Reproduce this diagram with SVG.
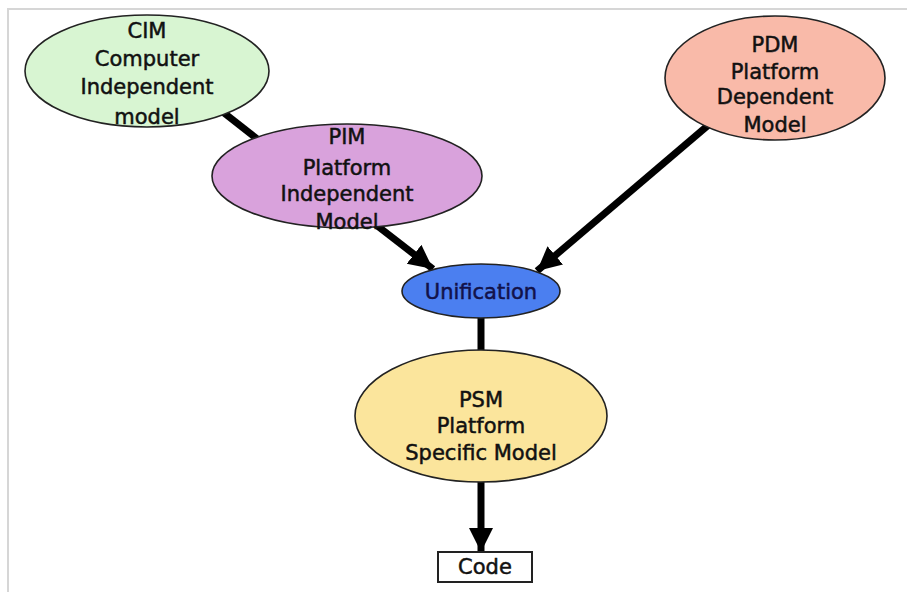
<svg xmlns="http://www.w3.org/2000/svg" width="907" height="592" viewBox="0 0 907 592">
<defs>
<marker id="ah" markerUnits="userSpaceOnUse" markerWidth="26" markerHeight="26" viewBox="0 0 26 26" refX="24" refY="13" orient="auto">
<path d="M0,1 L24,13 L0,25 Z" fill="#000"/>
</marker>
<style>
.n{stroke:#222;stroke-width:1.6}
.t{font-family:"DejaVu Sans",sans-serif;font-size:21px;fill:#111;stroke:#111;stroke-width:0.5;text-anchor:middle}
.c{stroke:#000;stroke-width:7;fill:none}
</style>
</defs>
<rect width="907" height="592" fill="#fff"/>
<path d="M8,592 V9 H907" fill="none" stroke="#d6d6d6" stroke-width="2"/>
<g id="connectors">
<line class="c" x1="205" y1="98" x2="275" y2="153"/>
<line class="c" x1="362" y1="214" x2="433" y2="269" marker-end="url(#ah)"/>
<line class="c" x1="712" y1="122" x2="537" y2="271" marker-end="url(#ah)"/>
<line class="c" x1="481" y1="314" x2="481" y2="352"/>
<line class="c" x1="481" y1="480" x2="481" y2="552" marker-end="url(#ah)"/>
</g>
<g id="cim">
<ellipse class="n" cx="147" cy="71" rx="122" ry="56" fill="#d8f5d2"/>
<text class="t" x="147" y="38">CIM</text>
<text class="t" x="147" y="66">Computer</text>
<text class="t" x="147" y="94">Independent</text>
<text class="t" x="147" y="124">model</text>
</g>
<g id="pim">
<ellipse class="n" cx="347" cy="176" rx="135" ry="52" fill="#d9a2dc"/>
<text class="t" x="347" y="144">PIM</text>
<text class="t" x="347" y="175">Platform</text>
<text class="t" x="347" y="201">Independent</text>
<text class="t" x="347" y="229">Model</text>
</g>
<g id="pdm">
<ellipse class="n" cx="775" cy="78" rx="110" ry="62" fill="#f9baa9"/>
<text class="t" x="775" y="52">PDM</text>
<text class="t" x="775" y="79">Platform</text>
<text class="t" x="775" y="104">Dependent</text>
<text class="t" x="775" y="132">Model</text>
</g>
<g id="unification">
<ellipse class="n" cx="481" cy="291" rx="79" ry="27" fill="#4b7ff0"/>
<text class="t" x="481" y="299" style="fill:#12124a;stroke:#12124a">Unification</text>
</g>
<g id="psm">
<ellipse class="n" cx="481" cy="416" rx="126" ry="66" fill="#fbe59c"/>
<text class="t" x="481" y="407">PSM</text>
<text class="t" x="481" y="433">Platform</text>
<text class="t" x="481" y="460">Specific Model</text>
</g>
<g id="code">
<rect x="438" y="552" width="94" height="30" fill="#fff" stroke="#222" stroke-width="2"/>
<text class="t" x="485" y="574">Code</text>
</g>
</svg>
